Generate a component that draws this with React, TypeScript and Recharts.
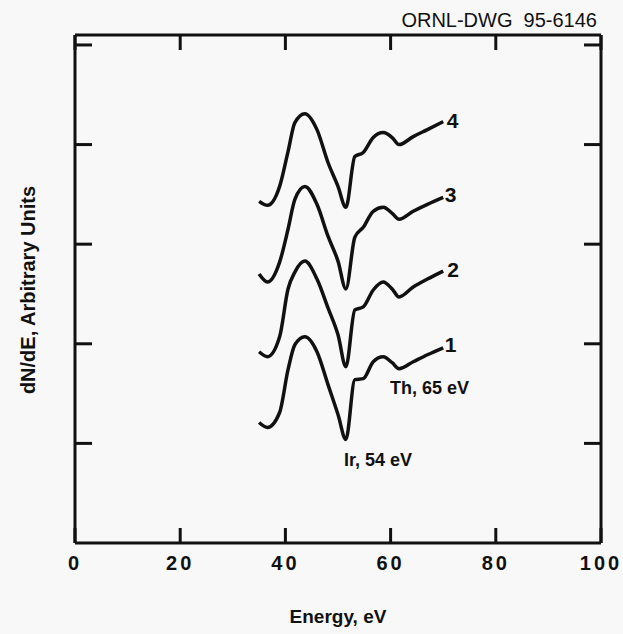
import { LineChart, Line, XAxis, YAxis, ReferenceDot } from 'recharts';

// energy grid (eV) shared by the four spectra
const energies = [35, 36.6, 38.9, 40.5, 41.8, 43.7, 46, 48.1, 50, 51.5, 53.2, 54.8, 56.7, 58.6, 60.3, 61.6, 64.3, 67, 70];

// dN/dE, arbitrary units (already offset vertically, as drawn)
const curve1 = [1.21, 1.16, 1.31, 1.74, 1.99, 2.07, 1.92, 1.59, 1.29, 1.04, 1.64, 1.65, 1.82, 1.87, 1.81, 1.75, 1.82, 1.89, 1.96];
const curve2 = [1.92, 1.87, 2.07, 2.55, 2.72, 2.83, 2.65, 2.36, 2.09, 1.77, 2.34, 2.37, 2.54, 2.62, 2.55, 2.47, 2.57, 2.65, 2.73];
const curve3 = [2.70, 2.62, 2.82, 3.15, 3.45, 3.58, 3.40, 3.08, 2.83, 2.55, 3.07, 3.17, 3.33, 3.37, 3.31, 3.25, 3.33, 3.40, 3.47];
const curve4 = [3.43, 3.39, 3.58, 3.93, 4.22, 4.31, 4.15, 3.82, 3.58, 3.37, 3.88, 3.92, 4.07, 4.12, 4.07, 4.00, 4.08, 4.15, 4.23];

const xTicks = [0, 20, 40, 60, 80, 100];
const yTicks = [1, 2, 3, 4, 5];

// curve numbers and peak notes, in data coordinates
const curveLabels = [
  { text: '1', e: 71.4, v: 1.99 },
  { text: '2', e: 71.9, v: 2.75 },
  { text: '3', e: 71.4, v: 3.5 },
  { text: '4', e: 71.8, v: 4.24 },
];
const notes = [
  { text: 'Ir, 54 eV', e: 57.6, v: 0.835 },
  { text: 'Th, 65 eV', e: 67.4, v: 1.56 },
];

const rows = energies.map((e, i) => ({ e, c1: curve1[i], c2: curve2[i], c3: curve3[i], c4: curve4[i] }));

const FONT = '"Liberation Sans", Arial, sans-serif';
const INK = '#111';
const axisLine = { stroke: INK, strokeWidth: 3 };
const blank = () => '';

export default function App() {
  return (
    <div style={{ position: 'fixed', left: 0, top: 0, width: 623, height: 634, background: '#f8f8f8', fontFamily: FONT, overflow: 'hidden' }}>
      <LineChart width={623} height={634} data={rows} margin={{ top: 35, right: 22, bottom: 90, left: 75 }}>
        <XAxis xAxisId="b" type="number" dataKey="e" domain={[0, 100]} ticks={xTicks} interval={0}
          height={1} tickSize={-15} tickMargin={28} axisLine={axisLine} tickLine={axisLine}
          tick={{ fill: INK, fontSize: 20, fontWeight: 'bold', letterSpacing: 3, fontFamily: FONT }} />
        <XAxis xAxisId="t" orientation="top" mirror type="number" dataKey="e" domain={[0, 100]} ticks={xTicks} interval={0}
          height={1} tickSize={15} tickFormatter={blank} axisLine={axisLine} tickLine={axisLine} />
        <YAxis yAxisId="l" mirror type="number" domain={[0, 5.1]} ticks={yTicks} interval={0}
          width={1} tickSize={17} tickFormatter={blank} axisLine={axisLine} tickLine={axisLine} />
        <YAxis yAxisId="r" orientation="right" mirror type="number" domain={[0, 5.1]} ticks={yTicks} interval={0}
          width={1} tickSize={17} tickFormatter={blank} axisLine={axisLine} tickLine={axisLine} />

        {['c1', 'c2', 'c3', 'c4'].map(k => (
          <Line key={k} xAxisId="b" yAxisId="l" type="monotone" dataKey={k} stroke={INK} strokeWidth={3.5}
            dot={false} activeDot={false} isAnimationActive={false} />
        ))}
        {/* invisible copy so the top/right frame axes get a scale */}
        <Line xAxisId="t" yAxisId="r" dataKey="c1" stroke="none" dot={false} activeDot={false} isAnimationActive={false} />

        {curveLabels.map(l => (
          <ReferenceDot key={l.text} xAxisId="b" yAxisId="l" x={l.e} y={l.v} r={0} ifOverflow="visible"
            label={{ value: l.text, position: 'center', fill: INK, fontSize: 21, fontWeight: 'bold', fontFamily: FONT }} />
        ))}
        {notes.map(n => (
          <ReferenceDot key={n.text} xAxisId="b" yAxisId="l" x={n.e} y={n.v} r={0} ifOverflow="visible"
            label={{ value: n.text, position: 'center', fill: INK, fontSize: 18, fontWeight: 'bold', fontFamily: FONT }} />
        ))}
      </LineChart>

      <div style={{ position: 'absolute', right: 26, top: 8, fontSize: 20, color: INK, whiteSpace: 'pre', lineHeight: '24px' }}>
        ORNL-DWG  95-6146
      </div>
      <div style={{ position: 'absolute', left: 338, top: 606, transform: 'translateX(-50%)', fontSize: 19, fontWeight: 'bold', color: INK, whiteSpace: 'nowrap' }}>
        Energy, eV
      </div>
      <div style={{ position: 'absolute', left: 28, top: 290, transform: 'translate(-50%, -50%) rotate(-90deg)', fontSize: 20, fontWeight: 'bold', color: INK, whiteSpace: 'nowrap' }}>
        dN/dE, Arbitrary Units
      </div>
    </div>
  );
}
